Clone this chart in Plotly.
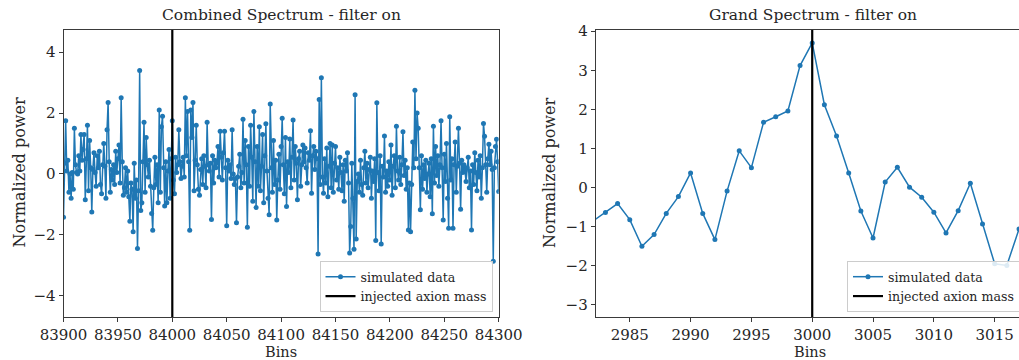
import plotly.graph_objects as go

# ---------------- data ----------------
combined_start_bin = 83900
combined_power = [
    -1.42, 0.35, 1.75, 0.1, 0.45, -0.6, 0.0, -0.8, 0.05, -0.5, 1.5, 0.3, 0.05, 0.0, 0.6, 0.1, 1.3, 0.45, 0.8, 1.3,
    -0.85, 0.5, 1.6, -0.55, 1.1, 0.2, -1.25, 0.15, 0.7, 0.05, -0.4, 0.6, 0.2, 0.75, -0.35, -0.65, 0.3, 1.0, 0.25, -0.8,
    1.45, 2.35, 0.4, -0.6, 0.15, -0.2, 0.3, -0.35, 0.75, 0.05, 0.5, 0.95, -0.3, 2.5, 0.4, -0.7, -0.45, 0.2, -0.6, 0.1,
    -0.75, -1.55, -0.3, -0.5, -1.9, 0.35, -0.8, -0.2, -2.45, -0.55, 3.4, -1.2, -0.95, 0.4, 1.7, -0.6, 1.2, 0.3, -0.1, 0.45,
    -0.4, -1.3, -1.85, -0.45, 0.55, -0.35, 0.3, -0.95, 2.1, -0.6, 1.55, 1.9, 0.2, -1.05, 0.4, -0.95, 0.1, 0.8, -0.8, 0.5,
    1.75, -0.2, -0.65, 0.55, 0.05, 0.3, 1.45, 0.4, -0.15, 0.25, 0.55, -0.1, 2.5, 0.6, 2.05, 0.4, -1.85, 2.1, 1.2, 2.35,
    -0.55, 0.45, 1.6, 0.3, -0.5, -0.7, 0.15, 0.5, -0.35, 0.6, 0.25, -0.45, 1.7, 0.3, 0.1, 0.35, -1.5, 0.6, -0.3, 0.45,
    0.2, 0.35, 0.9, -0.1, 1.4, 0.55, -0.2, 0.7, 1.4, 0.2, -1.7, 0.45, 0.1, 0.3, -0.15, 1.45, 0.0, -0.35, -0.15, -1.6,
    -0.1, 0.25, 0.65, -0.45, 0.05, 1.8, -0.3, 1.1, 0.3, -1.75, 0.9, -0.4, 1.6, 0.55, -0.9, 2.05, 0.4, -1.1, 0.9, -0.4,
    1.55, -0.55, 0.25, 1.3, -0.95, 0.6, 1.65, 0.1, -0.8, -1.34, 2.3, 0.2, -0.6, 1.1, -0.35, 0.45, -1.51, -0.2, 0.65, -0.5,
    0.9, 1.83, 0.3, -0.65, 1.2, -1.07, 0.4, 0.05, 1.15, -0.45, 0.55, 1.77, -0.2, 0.9, 0.35, -0.85, 0.5, 0.75, -0.4, 0.3,
    0.95, 0.4, 0.85, 0.2, -0.3, 0.7, 0.45, 1.42, -0.63, 0.6, 0.9, 0.15, 0.75, 0.5, -2.63, 2.45, -0.35, 3.16, -0.1, -0.63,
    0.5, -0.3, 0.85, -0.75, 0.25, 1.0, -0.45, 0.95, -0.6, 0.35, 0.9, -0.2, 0.2, -0.5, 0.55, 0.05, -0.55, 0.3, -0.9, 0.45,
    0.1, 0.7, -0.3, -2.6, -1.73, 0.35, -0.8, -2.47, 2.6, -2.14, -0.25, 0.0, -0.6, 0.45, -0.35, -0.7, 0.2, 0.75, -0.3, 0.35,
    -0.45, 0.15, 0.55, -0.8, 0.1, -0.25, 0.5, -2.19, 2.34, 0.05, -0.55, 0.6, -2.3, 0.25, -0.1, 1.25, -0.6, 0.1, -0.4, 0.4,
    -0.2, 0.95, -0.7, 0.25, 0.6, -0.45, 1.57, 0.1, -0.2, 0.55, -0.35, 0.3, 1.39, -0.05, 0.45, -0.5, 0.2, -1.84, -0.3, -1.9,
    -0.35, 1.05, 0.2, 2.75, 0.5, 2.0, 1.5, 0.2, -1.18, 0.6, -0.5, 0.3, -0.15, 0.45, -0.6, 0.0, 0.35, -0.75, 0.5, -1.31,
    1.57, -0.3, 0.9, -0.05, 0.6, -0.4, 0.3, 1.75, 0.2, -1.51, 0.65, -0.25, 1.0, -0.8, -1.78, 1.88, -0.2, 0.5, -1.78, 0.3,
    1.05, -0.6, 0.25, 1.5, 0.35, -1.16, 0.45, 0.05, 0.3, 0.1, -0.25, 0.2, 0.55, -0.45, 0.1, -1.84, 0.3, -0.35, 0.7, 0.05,
    -0.55, 0.45, -0.1, 0.6, -0.8, 0.2, 1.66, 1.24, 0.3, -0.6, 0.5, 0.98, 0.3, 0.75, 0.15, -2.87, 0.2, 0.9, 1.14, 0.4,
    -0.58,
]
combined_bins = [combined_start_bin + i for i in range(len(combined_power))]
combined_injected_bin = 84000

grand_bins = list(range(2982, 3018))
grand_power = [
    -0.85, -0.64, -0.41, -0.82, -1.50, -1.20, -0.66, -0.23, 0.375, -0.66,
    -1.33, -0.09, 0.94, 0.51, 1.67, 1.81, 1.96, 3.12, 3.70, 2.12,
    1.32, 0.375, -0.60, -1.29, 0.14, 0.52, 0.01, -0.245, -0.63, -1.16,
    -0.59, 0.11, -0.93, -1.95, -1.99, -1.06,
]
grand_injected_bin = 3000

combined_xticks = [83900, 83950, 84000, 84050, 84100, 84150, 84200, 84250, 84300]
combined_yticks = [-4, -2, 0, 2, 4]
grand_xticks = [2985, 2990, 2995, 3000, 3005, 3010, 3015]
grand_yticks = [-3, -2, -1, 0, 1, 2, 3, 4]

combined_xrange = [83900, 84300]
combined_yrange = [-4.7, 4.73]
grand_xrange = [2982.2, 3017.0]
grand_yrange = [-3.31, 4.03]

# ---------------- style ----------------
W, H = 1019, 360
BLUE = "#1f77b4"
TXT = "#262626"
AX = "#3a3a3a"
FONT = "DejaVu Serif"

fig = go.Figure()

fig.add_trace(go.Scatter(
    x=combined_bins, y=combined_power, mode="lines+markers",
    line=dict(color=BLUE, width=1.5), marker=dict(color=BLUE, size=5),
    name="simulated data", xaxis="x", yaxis="y", legend="legend",
))
fig.add_trace(go.Scatter(
    x=[combined_injected_bin, combined_injected_bin], y=combined_yrange, mode="lines",
    line=dict(color="black", width=2.2), name="injected axion mass",
    xaxis="x", yaxis="y", legend="legend",
))
fig.add_trace(go.Scatter(
    x=grand_bins, y=grand_power, mode="lines+markers",
    line=dict(color=BLUE, width=1.5), marker=dict(color=BLUE, size=5),
    name="simulated data", xaxis="x2", yaxis="y2", legend="legend2",
))
fig.add_trace(go.Scatter(
    x=[grand_injected_bin, grand_injected_bin], y=grand_yrange, mode="lines",
    line=dict(color="black", width=2.2), name="injected axion mass",
    xaxis="x2", yaxis="y2", legend="legend2",
))

top, bottom = 30, 43
ph = H - top - bottom


def px_x(p):
    return p / W


def px_y(p):
    return (H - bottom - p) / ph


axis_common = dict(
    showline=True, linecolor=AX, linewidth=1, showgrid=False, zeroline=False,
    ticks="outside", ticklen=4, tickwidth=1, tickcolor=AX, tickformat="d",
    tickfont=dict(family=FONT, size=15, color=TXT),
)

legend_common = dict(
    bgcolor="rgba(255,255,255,0.85)", bordercolor="#cccccc", borderwidth=1,
    font=dict(family=FONT, size=12.6, color=TXT), tracegroupgap=0,
)

fig.update_layout(
    width=W, height=H,
    margin=dict(l=0, r=0, t=top, b=bottom, autoexpand=False),
    paper_bgcolor="white", plot_bgcolor="white",
    font=dict(family=FONT, color=TXT),
    xaxis=dict(domain=[px_x(63.5), px_x(498.7)], range=combined_xrange,
               tickvals=combined_xticks, mirror=True, anchor="y", **axis_common),
    yaxis=dict(domain=[0, 1], range=combined_yrange, tickvals=combined_yticks,
               mirror=True, anchor="x", **axis_common),
    xaxis2=dict(domain=[px_x(595.7), 1.0], range=grand_xrange,
                tickvals=grand_xticks, mirror=True, anchor="y2", **axis_common),
    yaxis2=dict(domain=[0, 1], range=grand_yrange, tickvals=grand_yticks,
                mirror=False, anchor="x2", **axis_common),
    legend=dict(x=px_x(492.5), xanchor="right", y=px_y(312), yanchor="bottom", **legend_common),
    legend2=dict(x=px_x(847), xanchor="left", y=px_y(312), yanchor="bottom", **legend_common),
    showlegend=True,
)

ann = []
# titles
ann.append(dict(text="Combined Spectrum - filter on", x=px_x(281), y=px_y(15),
                font=dict(size=15.5)))
ann.append(dict(text="Grand Spectrum - filter on", x=px_x(812.8), y=px_y(15),
                font=dict(size=15.5)))
# x labels
ann.append(dict(text="Bins", x=px_x(281), y=px_y(351.5), font=dict(size=14.5)))
ann.append(dict(text="Bins", x=px_x(810), y=px_y(351.5), font=dict(size=14.5)))
# y labels
ann.append(dict(text="Normalized power", x=px_x(18.5), y=px_y(173), textangle=-90,
                font=dict(size=16)))
ann.append(dict(text="Normalized power", x=px_x(549), y=px_y(173), textangle=-90,
                font=dict(size=16)))
for a in ann:
    a.update(xref="paper", yref="paper", showarrow=False, xanchor="center", yanchor="middle",
             borderpad=0)
    a["font"].update(family=FONT, color=TXT)
fig.update_layout(annotations=ann)

fig.write_html("out.html")
